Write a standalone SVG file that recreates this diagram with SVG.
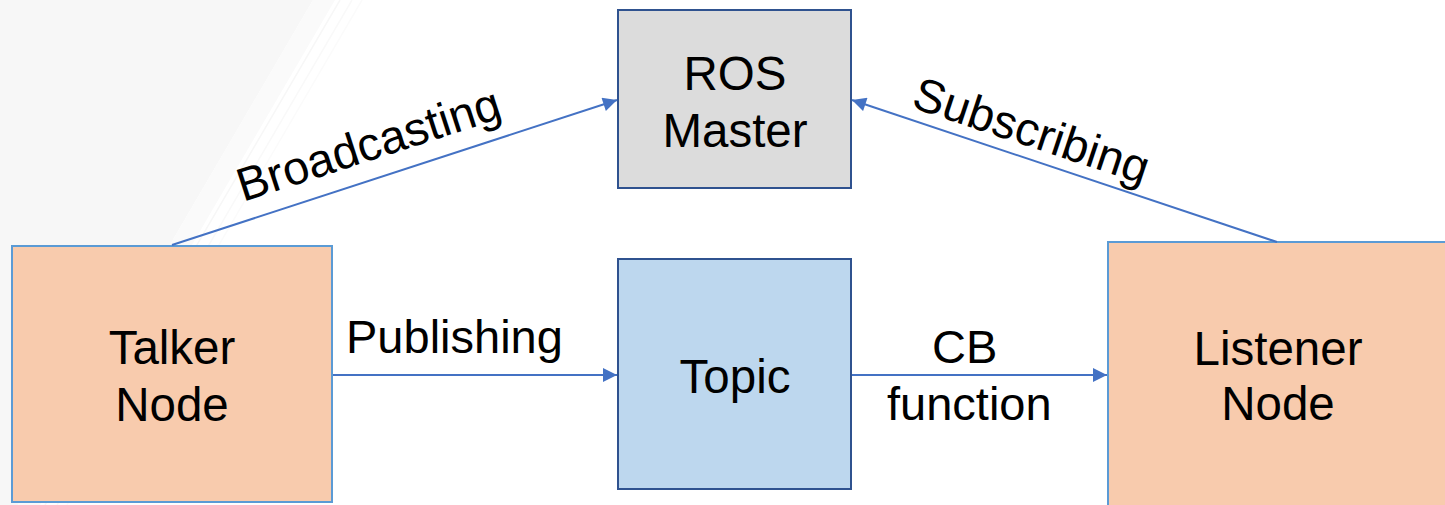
<svg xmlns="http://www.w3.org/2000/svg" width="1445" height="505" viewBox="0 0 1445 505">
  <defs>
    <style>
      .lbl { font-family: "Liberation Sans", Arial, sans-serif; font-size: 47.5px; fill: #000000; }
      .edge { font-size: 47px; }
      .mid { text-anchor: middle; }
      .conn { stroke: #4472c4; stroke-width: 2; fill: none; }
      .orange { fill: #f8cbad; stroke: #5b9bd5; stroke-width: 2; }
      .gray { fill: #dcdcdc; stroke: #2f528f; stroke-width: 2; }
      .blue { fill: #bdd7ee; stroke: #2f528f; stroke-width: 2; }
    </style>
    <marker id="arrow" viewBox="0 0 10 10" refX="10" refY="5" markerWidth="7.5" markerHeight="7" markerUnits="strokeWidth" orient="auto">
      <path d="M0,0 L10,5 L0,10 Z" fill="#4472c4"/>
    </marker>
  </defs>
  <rect x="0" y="0" width="1445" height="505" fill="#ffffff"/>
  <g id="background">
    <polygon points="0,0 313,0 18,505 0,505" fill="#f7f7f7"/>
    <polygon points="313,0 335,0 40,505 18,505" fill="#fafafa"/>
    <line x1="340" y1="0" x2="45" y2="505" stroke="#f7f7f7" stroke-width="1.5"/>
    <line x1="352" y1="0" x2="57" y2="505" stroke="#f9f9f9" stroke-width="1.5"/>
    <line x1="362" y1="0" x2="67" y2="505" stroke="#fbfbfb" stroke-width="1.5"/>
  </g>
  <g id="talker">
    <rect class="orange" x="12" y="246" width="320" height="256"/>
    <text class="lbl mid" x="172" y="364">Talker</text>
    <text class="lbl mid" x="172" y="421">Node</text>
  </g>
  <g id="master">
    <rect class="gray" x="618" y="10" width="233" height="178"/>
    <text class="lbl mid" x="735" y="90">ROS</text>
    <text class="lbl mid" x="735" y="147">Master</text>
  </g>
  <g id="topic">
    <rect class="blue" x="618" y="259" width="233" height="230"/>
    <text class="lbl mid" x="735" y="393">Topic</text>
  </g>
  <g id="listener">
    <rect class="orange" x="1108" y="242" width="345" height="275"/>
    <text class="lbl mid" x="1278" y="365">Listener</text>
    <text class="lbl mid" x="1278" y="420">Node</text>
  </g>
  <g id="connectors">
    <line class="conn" x1="172" y1="245" x2="617" y2="100" marker-end="url(#arrow)"/>
    <line class="conn" x1="1277" y1="242" x2="852" y2="100" marker-end="url(#arrow)"/>
    <line class="conn" x1="333" y1="375" x2="617" y2="375" marker-end="url(#arrow)"/>
    <line class="conn" x1="852" y1="375" x2="1107" y2="375" marker-end="url(#arrow)"/>
    <text class="lbl edge" x="0" y="0" transform="translate(243,202) rotate(-18)">Broadcasting</text>
    <text class="lbl edge" x="0" y="0" transform="translate(910,107) rotate(18.4)">Subscribing</text>
    <text class="lbl edge" x="346" y="353">Publishing</text>
    <text class="lbl edge" x="932" y="363">CB</text>
    <text class="lbl edge" x="887" y="420">function</text>
  </g>
</svg>
